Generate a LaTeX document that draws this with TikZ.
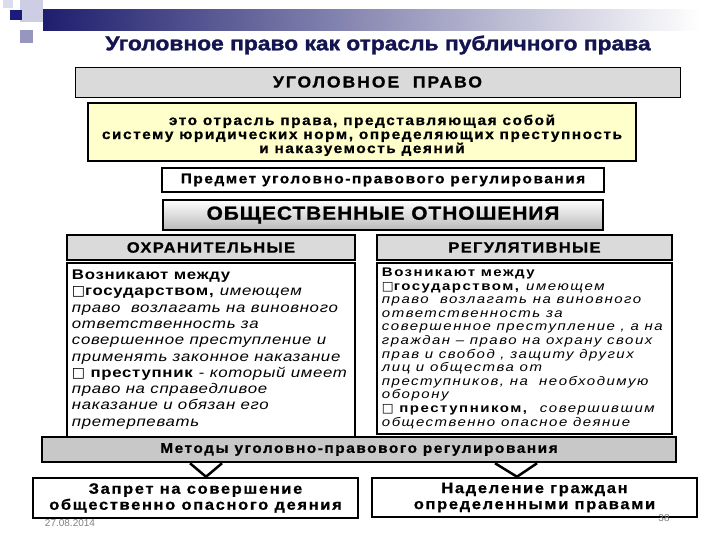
\documentclass[tikz,border=0pt]{standalone}
\usepackage{fontspec}
\setmainfont{Liberation Sans}
\newfontfamily\symfont{DejaVu Sans}
\usetikzlibrary{calc}
\definecolor{navy}{RGB}{20,20,80}
\definecolor{barblue}{RGB}{30,30,110}
\definecolor{lilac}{RGB}{205,205,228}
\definecolor{greyblue}{RGB}{150,150,190}
\definecolor{paleyellow}{RGB}{255,255,204}
\definecolor{texgrey}{RGB}{218,218,218}
\definecolor{metgrey}{RGB}{200,200,200}
\newcommand\chk{{\symfont\char"25A1}}

\begin{document}
\begin{tikzpicture}[x=1pt,y=-1pt,
  frame/.style={draw,line width=2.5pt,fill=white,inner sep=0pt,align=center},
  bigtxt/.style={font=\bfseries\fontsize{14}{14}\selectfont\addfontfeatures{FakeStretch=1.1,LetterSpace=11,FakeBold=0.8}},
  headtxt/.style={font=\bfseries\fontsize{15}{16}\selectfont\addfontfeatures{FakeStretch=1.1,LetterSpace=9,FakeBold=0.8}},
  bodytxt/.style={anchor=north west,inner sep=0pt,align=left}]
\useasboundingbox (0,0) rectangle (720,540);
% corner decoration
\fill[lilac] (20,0) rectangle (43,22);
\fill[lilac!70] (3,0) rectangle (13,8);
\fill[greyblue] (20,30) rectangle (33,43);
\shade[left color=barblue,right color=white] (43,10) rectangle (700,31);
\fill[barblue!90!blue] (10,10) rectangle (22,20);
\node (title) at (378,45) {\color{navy}\bfseries\fontsize{20}{22}\selectfont\addfontfeatures{FakeStretch=1.14,FakeBold=1.5}Уголовное право как отрасль публичного права};

\node[frame,line width=0.8pt,fill=texgrey,minimum width=605pt,minimum height=30pt,
  font=\bfseries\fontsize{16}{16}\selectfont\addfontfeatures{FakeStretch=1.1,LetterSpace=12,FakeBold=0.8}] (ugol) at (377.5,82) {УГОЛОВНОЕ\ \ ПРАВО};
\node[frame,fill=paleyellow,minimum width=548pt,minimum height=58pt,bigtxt] (defn) at (362,132)
  {\rule{0pt}{17pt}это отрасль права, представляющая собой\\систему юридических норм, определяющих преступность\\и наказуемость деяний};
\node[frame,minimum width=442pt,minimum height=24pt,bigtxt] (predmet) at (383,180) {Предмет уголовно-правового регулирования};
\node[frame,top color=white,bottom color=gray!55,minimum width=440pt,minimum height=30pt,
  font=\bfseries\fontsize{19}{19}\selectfont\addfontfeatures{FakeStretch=1.1,LetterSpace=5,FakeBold=1}] (obsh) at (383,215) {ОБЩЕСТВЕННЫЕ ОТНОШЕНИЯ};

\node[frame,fill=texgrey,minimum width=288pt,minimum height=25pt,headtxt] (ohr) at (211,247.5) {ОХРАНИТЕЛЬНЫЕ};
\node[frame,minimum width=288pt,minimum height=174pt] (ohrbody) at (211,350) {};
\node[bodytxt,font=\fontsize{14}{16.3}\selectfont\addfontfeatures{FakeStretch=1.2,LetterSpace=5}] (ohrtext) at ($(ohrbody.north west)+(6,8)$)
  {\textbf{Возникают между}\\
   \chk\textbf{государством,} \textit{имеющем}\\
   \textit{право\ \ возлагать на виновного}\\
   \textit{ответственность за}\\
   \textit{совершенное преступление и}\\
   \textit{применять законное наказание}\\
   \chk\ \textbf{преступник} - \textit{который имеет}\\
   \textit{право на справедливое}\\
   \textit{наказание и обязан его}\\
   \textit{претерпевать}};

\node[frame,fill=texgrey,minimum width=295pt,minimum height=25pt,headtxt] (reg) at (524.5,247.5) {РЕГУЛЯТИВНЫЕ};
\node[frame,minimum width=295pt,minimum height=171pt] (regbody) at (524.5,348.5) {};
\node[bodytxt,font=\fontsize{12.5}{13.6}\selectfont\addfontfeatures{FakeStretch=1.2,LetterSpace=12}] (regtext) at ($(regbody.north west)+(6,6)$)
  {\textbf{Возникают между}\\
   \chk\textbf{государством,} \textit{имеющем}\\
   \textit{право\ \ возлагать на виновного}\\
   \textit{ответственность за}\\
   \textit{совершенное преступление , а на}\\
   \textit{граждан -- право на охрану своих}\\
   \textit{прав и свобод , защиту других}\\
   \textit{лиц и общества от}\\
   \textit{преступников, на\ \ необходимую}\\
   \textit{оборону}\\
   \chk\ \textbf{преступником,}\ \ \textit{совершившим}\\
   \textit{общественно опасное деяние}};

\node[frame,fill=metgrey,minimum width=634pt,minimum height=25pt,bigtxt] (metody) at (359,449.5) {Методы уголовно-правового регулирования};
\node[frame,minimum width=325pt,minimum height=40pt,font=\bfseries\fontsize{15}{16}\selectfont\addfontfeatures{FakeStretch=1.1,LetterSpace=11,FakeBold=0.8}] (zapret) at (195.5,498)
  {Запрет на совершение\\общественно опасного деяния};
\node[frame,minimum width=325pt,minimum height=39pt,font=\bfseries\fontsize{15}{16}\selectfont\addfontfeatures{FakeStretch=1.1,LetterSpace=11,FakeBold=0.8}] (nadel) at (534.5,497.5)
  {Наделение граждан\\определенными правами};

% connectors to the methods
\draw[line width=2.5pt,fill=white] (metody.south -| 190,0) -- (zapret.north -| 206,0) -- (metody.south -| 222,0);
\draw[line width=2.5pt,fill=white] (metody.south -| 495,0) -- (nadel.north -| 517,0) -- (metody.south -| 537,0);

\node[gray,font=\fontsize{10}{12}\selectfont] (date) at (70,523) {27.08.2014};
\node[gray,font=\fontsize{10}{12}\selectfont] (page) at (664,518) {38};
\end{tikzpicture}
\end{document}
